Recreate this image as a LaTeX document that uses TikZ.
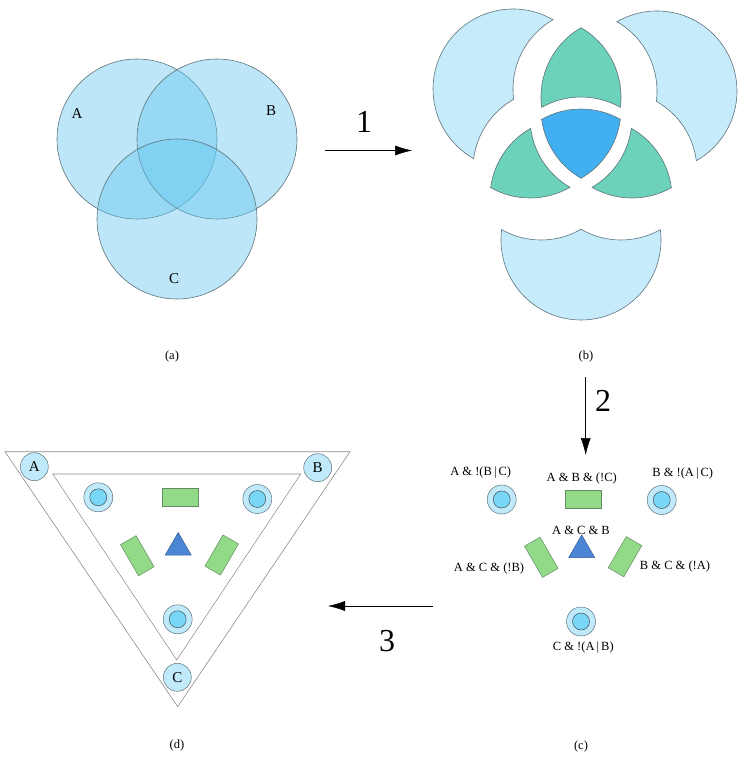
\documentclass[tikz,border=0pt]{standalone}
\usepackage{fontspec}
\setmainfont{Liberation Serif}
\usetikzlibrary{arrows.meta,shapes.geometric}
\definecolor{vennfill}{RGB}{100,200,240}
\definecolor{piecelight}{RGB}{198,236,251}
\definecolor{piecegreen}{RGB}{108,210,186}
\definecolor{pieceblue}{RGB}{66,176,240}
\definecolor{edgegray}{RGB}{95,115,125}
\definecolor{tgtout}{RGB}{192,233,250}
\definecolor{tgtin}{RGB}{120,214,246}
\definecolor{rectgreen}{RGB}{146,218,136}
\definecolor{rectedge}{RGB}{100,140,100}
\definecolor{triblue}{RGB}{74,134,212}
\definecolor{triedge}{RGB}{50,90,150}
\definecolor{linegray}{RGB}{140,140,140}
% region paths of the Venn diagram (pixel coordinates, y downwards)
\newcommand{\rgABC}{(137.67,149.34) arc[start angle=-119.45,end angle=-60.55,radius=80] arc[start angle=7.43,end angle=60,radius=80] arc[start angle=120,end angle=172.57,radius=80] -- cycle}
\newcommand{\rgAB}{(177,69.72) arc[start angle=-60,end angle=7.43,radius=80] arc[start angle=-60.55,end angle=-119.45,radius=80] arc[start angle=172.57,end angle=240,radius=80] -- cycle}
\newcommand{\rgAC}{(97.67,208.66) arc[start angle=187.43,end angle=240.55,radius=80] arc[start angle=172.57,end angle=120,radius=80] arc[start angle=60,end angle=119.45,radius=80] -- cycle}
\newcommand{\rgBC}{(256.33,208.66) arc[start angle=-7.43,end angle=-60.55,radius=80] arc[start angle=7.43,end angle=60,radius=80] arc[start angle=120,end angle=60.55,radius=80] -- cycle}
\newcommand{\rgAonly}{(177,69.72) arc[start angle=300,end angle=119.45,radius=80] arc[start angle=187.43,end angle=240.55,radius=80] arc[start angle=172.57,end angle=240,radius=80] -- cycle}
\newcommand{\rgBonly}{(177,69.72) arc[start angle=-120,end angle=60.55,radius=80] arc[start angle=-7.43,end angle=-60.55,radius=80] arc[start angle=7.43,end angle=-60,radius=80] -- cycle}
\newcommand{\rgConly}{(97.67,208.66) arc[start angle=187.43,end angle=-7.43,radius=80] arc[start angle=60.55,end angle=120,radius=80] arc[start angle=60,end angle=119.45,radius=80] -- cycle}
\tikzset{
  vcircle/.style={fill=vennfill, fill opacity=0.42, draw=edgegray, line width=0.6pt},
  piece/.style={draw=edgegray, line width=0.6pt},
  arr/.style={-{Latex[length=17pt,width=10pt]}, line width=0.5pt, black},
  numlbl/.style={font=\fontsize{32}{34}\selectfont},
  caplbl/.style={font=\fontsize{12.5}{14}\selectfont},
  setlbl/.style={font=\fontsize{12.5}{14}\selectfont},
  vennlbl/.style={font=\fontsize{15}{17}\selectfont},
  rectbox/.style={rectangle, minimum width=36pt, minimum height=18pt, inner sep=0pt, fill=rectgreen, draw=rectedge, line width=0.5pt},
  tribox/.style={regular polygon, regular polygon sides=3, minimum size=30pt, inner sep=0pt, fill=triblue, draw=triedge, line width=0.5pt},
  corner/.style={circle, minimum size=28pt, inner sep=0pt, fill=tgtout, draw=edgegray, line width=0.5pt, font=\fontsize{15}{17}\selectfont},
  tline/.style={draw=linegray, line width=0.6pt},
  pics/target/.style={code={
    \node[circle, minimum size=29pt, inner sep=0pt, fill=tgtout, draw=edgegray, line width=0.5pt] (-o) {};
    \node[circle, minimum size=17pt, inner sep=0pt, fill=tgtin, draw=edgegray!70!black, line width=0.5pt] (-i) {};
  }}
}
\begin{document}
\begin{tikzpicture}[x=1pt,y=-1pt]
\useasboundingbox (0,0) rectangle (746,762);
\fill[white] (0,0) rectangle (746,762);

% ---------- (a) Venn diagram ----------
\draw[vcircle] (137,139) circle[radius=80];
\draw[vcircle] (217,139) circle[radius=80];
\draw[vcircle] (177,219) circle[radius=80];
\node[vennlbl] (la) at (77,114) {A};
\node[vennlbl] (lb) at (271,111) {B};
\node[vennlbl] (lc) at (174,279) {C};
\node[caplbl] (capa) at (172,356) {(a)};

% ---------- arrow 1 ----------
\coordinate (a1s) at (325,150.5);
\coordinate (a1e) at (412,150.5);
\draw[arr] (a1s) -- (a1e);
\node[numlbl] (n1) at (364,122) {1};

% ---------- (b) exploded regions ----------
\begin{scope}[shift={(376,-50)}]
  \path[piece, fill=piecelight] \rgAonly;
\end{scope}
\begin{scope}[shift={(440,-48)}]
  \path[piece, fill=piecelight] \rgBonly;
\end{scope}
\begin{scope}[shift={(404,21)}]
  \path[piece, fill=piecelight] \rgConly;
\end{scope}
\begin{scope}[shift={(404,-42)}]
  \path[piece, fill=piecegreen] \rgAB;
\end{scope}
\begin{scope}[shift={(393,-21)}]
  \path[piece, fill=piecegreen] \rgAC;
\end{scope}
\begin{scope}[shift={(415,-21)}]
  \path[piece, fill=piecegreen] \rgBC;
\end{scope}
\begin{scope}[shift={(404,-30)}]
  \path[piece, fill=pieceblue] \rgABC;
\end{scope}
\node[caplbl] (capb) at (586,356) {(b)};

% ---------- arrow 2 ----------
\coordinate (a2s) at (585.7,377);
\coordinate (a2e) at (585.7,455);
\draw[arr] (a2s) -- (a2e);
\node[numlbl] (n2) at (603,401) {2};

% ---------- (c) elements ----------
\pic (tA) at (501.7,499.5) {target};
\pic (tB) at (661.7,500) {target};
\pic (tC) at (581,621.5) {target};
\node[rectbox] (rAB) at (583.7,498.8) {};
\node[rectbox, rotate=-60] (rAC) at (541.3,557.3) {};
\node[rectbox, rotate=60] (rBC) at (625,556.7) {};
\node[tribox] (tABC) at (581.7,550) {};
\node[setlbl] (lA) at (480.7,472.7) {A \& !(B\,|\,C)};
\node[setlbl] (lAB) at (581.7,478.3) {A \& B \& (!C)};
\node[setlbl] (lB) at (682.7,474) {B \& !(A\,|\,C)};
\node[setlbl] (lABC) at (581,530) {A \& C \& B};
\node[setlbl] (lAC) at (489,568.3) {A \& C \& (!B)};
\node[setlbl] (lBC) at (675,566.7) {B \& C \& (!A)};
\node[setlbl] (lC) at (583.3,647.3) {C \& !(A\,|\,B)};
\node[caplbl] (capc) at (581,746) {(c)};

% ---------- arrow 3 ----------
\coordinate (a3s) at (433,606);
\coordinate (a3e) at (328,606);
\draw[arr] (a3s) -- (a3e);
\node[numlbl] (n3) at (387,641) {3};

% ---------- (d) triangle layout ----------
\draw[tline] (5,451.7) -- (350,451.7) -- (177.7,706.7) -- cycle;
\draw[tline] (52.7,474) -- (300.7,474) -- (176.7,660) -- cycle;
\node[corner] (cA) at (34.3,466.7) {A};
\node[corner] (cB) at (317.7,467.7) {B};
\node[corner] (cC) at (177.3,677.3) {C};
\pic (dA) at (98.3,497.3) {target};
\pic (dB) at (257.3,499) {target};
\pic (dC) at (177.7,619.3) {target};
\node[rectbox] (dAB) at (180,497.2) {};
\node[rectbox, rotate=-60] (dAC) at (137.3,555.7) {};
\node[rectbox, rotate=60] (dBC) at (221.7,555) {};
\node[tribox] (dABC) at (178.2,547.5) {};
\node[caplbl] (capd) at (177,745) {(d)};
\end{tikzpicture}
\end{document}
